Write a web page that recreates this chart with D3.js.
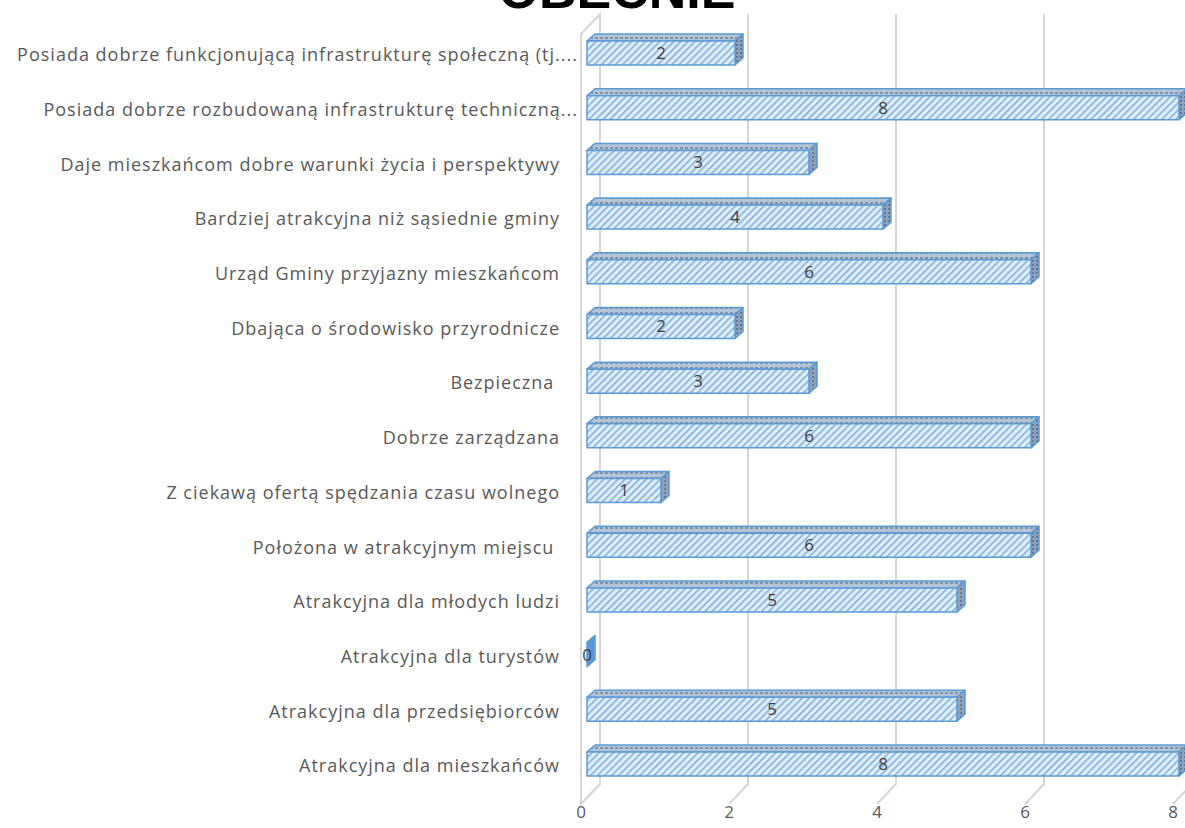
<!DOCTYPE html>
<html>
<head>
<meta charset="utf-8">
<script src="https://cdn.jsdelivr.net/npm/d3@7"></script>
<style>
  html, body { margin: 0; padding: 0; background: #fff; }
  svg { display: block; }
</style>
</head>
<body>
<svg id="viz"></svg>
<script>
const WIDTH = 1185;
const HEIGHT = 828;

// data, top to bottom as in the picture
const categories = [
  "Posiada dobrze funkcjonującą infrastrukturę społeczną (tj....",
  "Posiada dobrze rozbudowaną infrastrukturę techniczną...",
  "Daje mieszkańcom dobre warunki życia i perspektywy",
  "Bardziej atrakcyjna niż sąsiednie gminy",
  "Urząd Gminy przyjazny mieszkańcom",
  "Dbająca o środowisko przyrodnicze",
  "Bezpieczna ",
  "Dobrze zarządzana",
  "Z ciekawą ofertą spędzania czasu wolnego",
  "Położona w atrakcyjnym miejscu ",
  "Atrakcyjna dla młodych ludzi",
  "Atrakcyjna dla turystów",
  "Atrakcyjna dla przedsiębiorców",
  "Atrakcyjna dla mieszkańców"
];
const values = [2, 8, 3, 4, 6, 2, 3, 6, 1, 6, 5, 0, 5, 8];
const ticks = [0, 2, 4, 6, 8];
const title = "OBECNIE";

// 3d geometry
const WALL_DX = 19, WALL_DY = -20;   // depth of the chart box
const BAR_DX = 8, BAR_DY = -7;       // depth of a bar
const BAR_H = 24;
const FLOOR_Y = 804;
const TOP_Y = 34;

const x = d3.scaleLinear().domain([0, 8]).range([587, 1179]);
const y = d3.scalePoint().domain(categories).range([55, 766]);

const svg = d3.select("#viz").attr("width", WIDTH).attr("height", HEIGHT);

// patterns
const defs = svg.append("defs");
const front = defs.append("pattern")
  .attr("id", "hatch")
  .attr("patternUnits", "userSpaceOnUse")
  .attr("width", 5).attr("height", 5)
  .attr("patternTransform", "rotate(45)");
front.append("rect").attr("width", 5).attr("height", 5).attr("fill", "#e1edf9");
front.append("rect").attr("width", 1.6).attr("height", 5).attr("fill", "#7eb0e0");

const topPat = defs.append("pattern")
  .attr("id", "hatchTop")
  .attr("patternUnits", "userSpaceOnUse")
  .attr("width", 5).attr("height", 5);
topPat.append("rect").attr("width", 5).attr("height", 5).attr("fill", "#b4c4d6");
topPat.append("rect").attr("width", 3).attr("height", 2).attr("y", 2).attr("fill", "#8092a8");

const sidePat = defs.append("pattern")
  .attr("id", "hatchSide")
  .attr("patternUnits", "userSpaceOnUse")
  .attr("width", 4).attr("height", 4);
sidePat.append("rect").attr("width", 4).attr("height", 4).attr("fill", "#8ea3bb");
sidePat.append("rect").attr("width", 2).attr("height", 2).attr("fill", "#66788f");

// title (cut off at the top, as in the picture)
svg.append("text")
  .attr("x", 617).attr("y", 8)
  .attr("text-anchor", "middle")
  .attr("font-family", "Liberation Sans, Arial, sans-serif")
  .attr("font-weight", "bold")
  .attr("font-size", 52)
  .attr("fill", "#000")
  .text(title);

// walls and gridlines
const grid = svg.append("g").attr("stroke", "#d6d6d6").attr("fill", "none").attr("stroke-width", 2);
const floorX = v => x(v) - 6;

// left wall
grid.append("path")
  .attr("d", `M${floorX(0)},${FLOOR_Y} L${floorX(0)},${TOP_Y} L${floorX(0) + WALL_DX},${TOP_Y + WALL_DY} L${floorX(0) + WALL_DX},${FLOOR_Y + WALL_DY} Z`)
  .attr("fill", "#fff");

grid.selectAll("path.gl")
  .data(ticks)
  .join("path")
  .attr("class", "gl")
  .attr("d", v => `M${floorX(v)},${FLOOR_Y} L${floorX(v) + WALL_DX},${FLOOR_Y + WALL_DY} L${floorX(v) + WALL_DX},${TOP_Y + WALL_DY}`);

// tick labels
svg.append("g").selectAll("text")
  .data(ticks)
  .join("text")
  .attr("x", v => floorX(v))
  .attr("y", 818)
  .attr("text-anchor", "middle")
  .attr("font-family", "Open Sans, sans-serif")
  .attr("font-size", 17)
  .attr("fill", "#595959")
  .text(d => d);

// category labels (truncated ones sit a little further right, like Excel does)
svg.append("g").selectAll("text")
  .data(categories)
  .join("text")
  .attr("x", d => d.endsWith("...") ? 578 : 560)
  .attr("y", d => y(d))
  .attr("dy", "0.35em")
  .attr("text-anchor", "end")
  .attr("xml:space", "preserve")
  .style("white-space", "pre")
  .attr("font-family", "Open Sans, sans-serif")
  .attr("font-size", 18)
  .attr("letter-spacing", 1)
  .attr("fill", "#595959")
  .text(d => d);

// bars
const rows = categories.map((c, i) => ({ cat: c, value: values[i] }));
const bars = svg.append("g").selectAll("g.bar")
  .data(rows)
  .join("g")
  .attr("class", "bar")
  .attr("stroke", "#5b9bd5")
  .attr("stroke-width", 1.5)
  .attr("stroke-linejoin", "round");

bars.each(function (d) {
  const g = d3.select(this);
  const x0 = x(0), x1 = x(d.value);
  const t = y(d.cat) - 14, b = t + BAR_H;
  // top face
  g.append("path")
    .attr("fill", "url(#hatchTop)")
    .attr("d", `M${x0},${t} L${x0 + BAR_DX},${t + BAR_DY} L${x1 + BAR_DX},${t + BAR_DY} L${x1},${t} Z`);
  // right face
  g.append("path")
    .attr("fill", d.value === 0 ? "#5b9bd5" : "url(#hatchSide)")
    .attr("d", `M${x1},${t} L${x1 + BAR_DX},${t + BAR_DY} L${x1 + BAR_DX},${b + BAR_DY} L${x1},${b} Z`);
  // front face
  if (d.value > 0) {
    g.append("rect")
      .attr("x", x0).attr("y", t)
      .attr("width", x1 - x0).attr("height", BAR_H)
      .attr("fill", "url(#hatch)");
  }
});

// value labels
svg.append("g").selectAll("text")
  .data(rows)
  .join("text")
  .attr("x", d => (x(0) + x(d.value)) / 2)
  .attr("y", d => y(d.cat) - 2)
  .attr("dy", "0.35em")
  .attr("text-anchor", "middle")
  .attr("font-family", "Open Sans, sans-serif")
  .attr("font-size", 17)
  .attr("fill", "#404040")
  .text(d => d.value);
</script>
</body>
</html>
